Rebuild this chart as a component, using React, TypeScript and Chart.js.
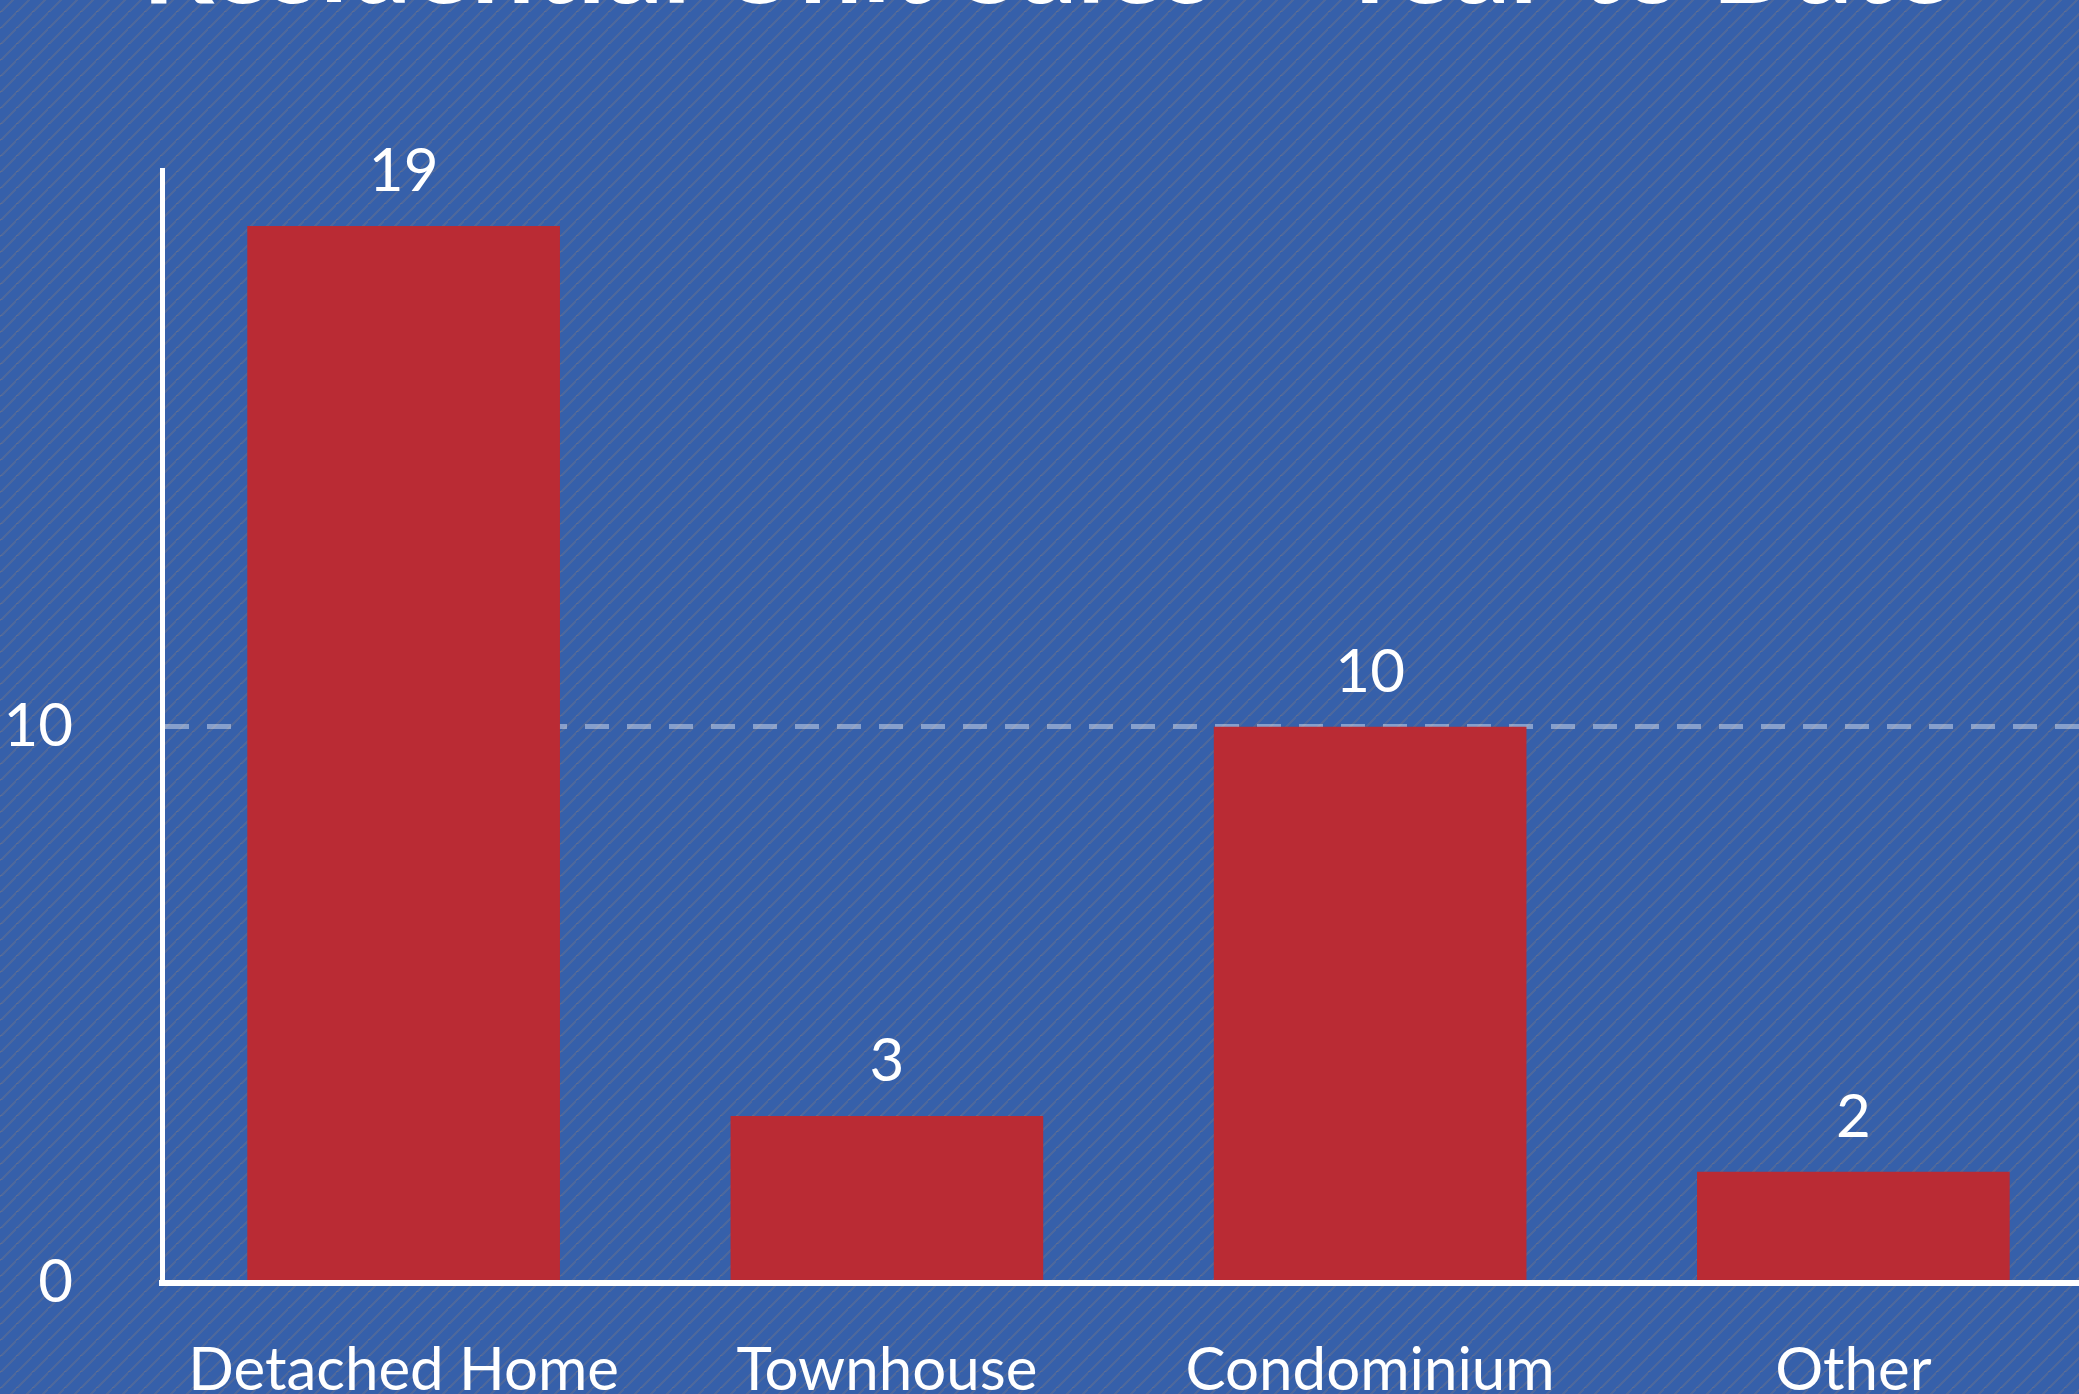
import React, { useEffect, useRef } from "react";
import { Chart, registerables } from "chart.js";

Chart.register(...registerables);

const titleText = "Residential Unit Sales – Year to Date";
const categories = ["Detached Home", "Townhouse", "Condominium", "Other"];
const unitSales = [19, 3, 10, 2];
const yTickValues = [0, 10, 20];
const yTickLabels = ["0", "10", ""];

const FONT = "Lato";

export default function App() {
  const ref = useRef<HTMLCanvasElement>(null);

  useEffect(() => {
    const canvas = ref.current;
    if (!canvas) return;

    const N = 16;
    const tile = document.createElement("canvas");
    tile.width = N;
    tile.height = N;
    const t = tile.getContext("2d")!;
    t.fillStyle = "#3660AA";
    t.fillRect(0, 0, N, N);
    t.fillStyle = "rgba(120,120,135,0.36)";
    for (let i = 0; i < N; i++) {
      const y = N - 1 - i;
      t.fillRect(i, y, 3, 1);
      if (i + 3 > N) t.fillRect(0, (y + N - 1) % N, i + 3 - N, 1);
    }

    const bgPlugin = {
      id: "bgPattern",
      beforeDraw(chart: any) {
        const ctx = chart.ctx as CanvasRenderingContext2D;
        ctx.save();
        const pat = ctx.createPattern(tile, "repeat");
        ctx.fillStyle = pat || "#3660AA";
        ctx.fillRect(0, 0, chart.width, chart.height);
        ctx.restore();
      },
    };

    const valueLabels = {
      id: "valueLabels",
      afterDatasetsDraw(chart: any) {
        const ctx = chart.ctx as CanvasRenderingContext2D;
        const meta = chart.getDatasetMeta(0);
        ctx.save();
        ctx.font = `60px ${FONT}`;
        ctx.fillStyle = "#ffffff";
        ctx.textAlign = "center";
        ctx.textBaseline = "alphabetic";
        meta.data.forEach((bar: any, i: number) => {
          ctx.fillText(String(unitSales[i]), bar.x, bar.y - 35);
        });
        ctx.restore();
      },
    };

    const chart = new Chart(canvas, {
      type: "bar",
      data: {
        labels: categories,
        datasets: [
          {
            data: unitSales,
            backgroundColor: "#BA2B34",
            borderWidth: 0,
            categoryPercentage: 1,
            barPercentage: 0.647,
          },
        ],
      },
      options: {
        responsive: false,
        animation: false,
        layout: { padding: { left: 0, right: 5, top: 0, bottom: 8 } },
        plugins: {
          legend: { display: false },
          tooltip: { enabled: false },
          title: {
            display: true,
            text: titleText,
            color: "#ffffff",
            font: { family: FONT, size: 112, weight: "bold", lineHeight: 1.2 },
            padding: { top: 0, bottom: 136 },
          },
        },
        scales: {
          x: {
            grid: { display: true, color: "rgba(0,0,0,0)", drawTicks: false },
            border: { display: true, color: "#ffffff", width: 6, z: 1 },
            ticks: {
              color: "#ffffff",
              font: { family: FONT, size: 60 },
              padding: 52,
              maxRotation: 0,
              autoSkip: false,
            },
          },
          y: {
            min: yTickValues[0],
            max: yTickValues[yTickValues.length - 1],
            afterFit(scale: any) {
              scale.width = 162;
            },
            grid: {
              color: (c: any) =>
                c.tick && c.tick.value === yTickValues[1]
                  ? "rgba(255,255,255,0.4)"
                  : "rgba(0,0,0,0)",
              lineWidth: 5,
              drawTicks: false,
            },
            border: { display: true, color: "#ffffff", width: 5, dash: [24, 18] },
            ticks: {
              stepSize: yTickValues[1] - yTickValues[0],
              color: "#ffffff",
              font: { family: FONT, size: 60 },
              padding: 89,
              callback: (v: any) => {
                const idx = yTickValues.indexOf(Number(v));
                return idx >= 0 ? yTickLabels[idx] : "";
              },
            },
          },
        },
      },
      plugins: [bgPlugin, valueLabels],
    } as any);

    return () => chart.destroy();
  }, []);

  return (
    <div
      style={{
        position: "fixed",
        left: 0,
        top: 0,
        width: 2079,
        height: 1394,
        overflow: "hidden",
        background: "#3660AA",
      }}
    >
      <canvas
        ref={ref}
        width={2100}
        height={1567}
        style={{ position: "absolute", left: 0, top: -100, width: 2100, height: 1567 }}
      />
    </div>
  );
}
